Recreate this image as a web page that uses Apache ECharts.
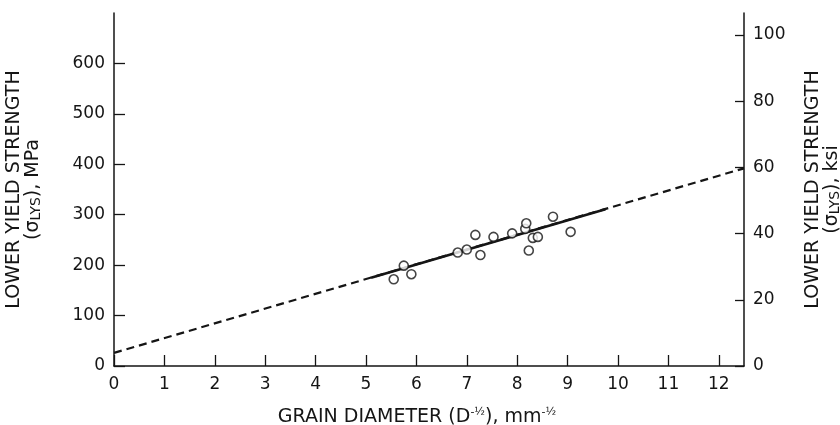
<!DOCTYPE html>
<html>
<head>
<meta charset="utf-8">
<script src="https://cdn.jsdelivr.net/npm/echarts@6/dist/echarts.min.js"></script>
<style>
  html, body { margin: 0; padding: 0; background: #fff; }
  #chart { width: 840px; height: 425px; }
</style>
</head>
<body>
<div id="chart"></div>
<script>
// grain size D^-1/2 (mm^-1/2) vs lower yield strength (MPa)
const grainX = [5.55, 5.75, 5.90, 6.82, 7.00, 7.17, 7.27, 7.53, 7.90, 8.16, 8.18, 8.23, 8.31, 8.41, 8.71, 9.06]
const yieldMPa = [172, 199, 182, 225, 231, 260, 220, 256, 263, 272, 283, 229, 254, 256, 296, 266]

// Hall-Petch fit: dashed extrapolation and the solid part over the data
const fitX = [0, 12.5]
const fitY = [26, 392]
const solidX = [5.1, 9.75]
const solidY = [175, 311]

// tick labels
const xTicks = [0, 1, 2, 3, 4, 5, 6, 7, 8, 9, 10, 11, 12]
const mpaTicks = [0, 100, 200, 300, 400, 500, 600]
const ksiTicks = [0, 20, 40, 60, 80, 100]

const ink = '#151515'
const font = 'DejaVu Sans'

const chart = echarts.init(document.getElementById('chart'))

const axisLine = {show: true, onZero: false, lineStyle: {color: ink, width: 1.5}}

chart.setOption({
  backgroundColor: '#fff',
  animation: false,
  grid: {left: 114, right: 96, top: 13, bottom: 59, outerBoundsMode: 'none', containLabel: false},
  xAxis: {
    type: 'value',
    min: 0,
    max: 12.5,
    interval: 1,
    splitLine: {show: false},
    axisLine: axisLine,
    axisTick: {inside: true, length: 11, customValues: xTicks, lineStyle: {color: ink, width: 1.3}},
    axisLabel: {customValues: xTicks, margin: 10, color: ink, fontSize: 17, fontFamily: font},
    name: 'GRAIN DIAMETER (D{sup|-½}), mm{sup|-½}',
    nameLocation: 'middle',
    nameGap: 41,
    nameTextStyle: {
      color: ink, fontSize: 19, fontFamily: font, lineHeight: 20,
      padding: [0, 24, 0, 0],
      rich: {sup: {fontSize: 11, fontFamily: font, color: ink, verticalAlign: 'top', lineHeight: 20}}
    }
  },
  yAxis: [
    {
      type: 'value',
      position: 'left',
      min: 0,
      max: 700,
      interval: 100,
      splitLine: {show: false},
      axisLine: axisLine,
      axisTick: {inside: true, length: 11, customValues: mpaTicks, lineStyle: {color: ink, width: 1.3}},
      axisLabel: {customValues: mpaTicks, margin: 9, color: ink, fontSize: 17, fontFamily: font},
      name: 'LOWER YIELD STRENGTH\n(σ{sub|LYS}), MPa',
      nameLocation: 'middle',
      nameGap: 71,
      nameTextStyle: {
        color: ink, fontSize: 19, fontFamily: font, lineHeight: 19,
        rich: {sub: {fontSize: 14, fontFamily: font, color: ink, verticalAlign: 'bottom', lineHeight: 19}}
      }
    },
    {
      type: 'value',
      position: 'right',
      min: 0,
      max: 106.6,
      interval: 20,
      splitLine: {show: false},
      axisLine: axisLine,
      axisTick: {inside: true, length: 9, customValues: ksiTicks, lineStyle: {color: ink, width: 1.3}},
      axisLabel: {customValues: ksiTicks, margin: 9, color: ink, fontSize: 17, fontFamily: font},
      name: 'LOWER YIELD STRENGTH\n(σ{sub|LYS}), ksi',
      nameLocation: 'middle',
      nameGap: 60,
      nameTextStyle: {
        color: ink, fontSize: 19, fontFamily: font, lineHeight: 19,
        rich: {sub: {fontSize: 14, fontFamily: font, color: ink, verticalAlign: 'bottom', lineHeight: 19}}
      }
    }
  ],
  series: [
    {
      name: 'extrapolation',
      type: 'line',
      yAxisIndex: 0,
      symbol: 'none',
      z: 2,
      lineStyle: {color: ink, width: 2.2, type: [8, 5]},
      data: fitX.map((x, i) => [x, fitY[i]])
    },
    {
      name: 'fit',
      type: 'line',
      yAxisIndex: 0,
      symbol: 'none',
      z: 3,
      lineStyle: {color: ink, width: 2.6},
      data: solidX.map((x, i) => [x, solidY[i]])
    },
    {
      name: 'data',
      type: 'scatter',
      yAxisIndex: 0,
      symbol: 'circle',
      symbolSize: 9,
      z: 4,
      itemStyle: {color: '#fff', borderColor: ink, borderWidth: 1.6},
      data: grainX.map((x, i) => [x, yieldMPa[i]])
    }
  ]
})
</script>
</body>
</html>
